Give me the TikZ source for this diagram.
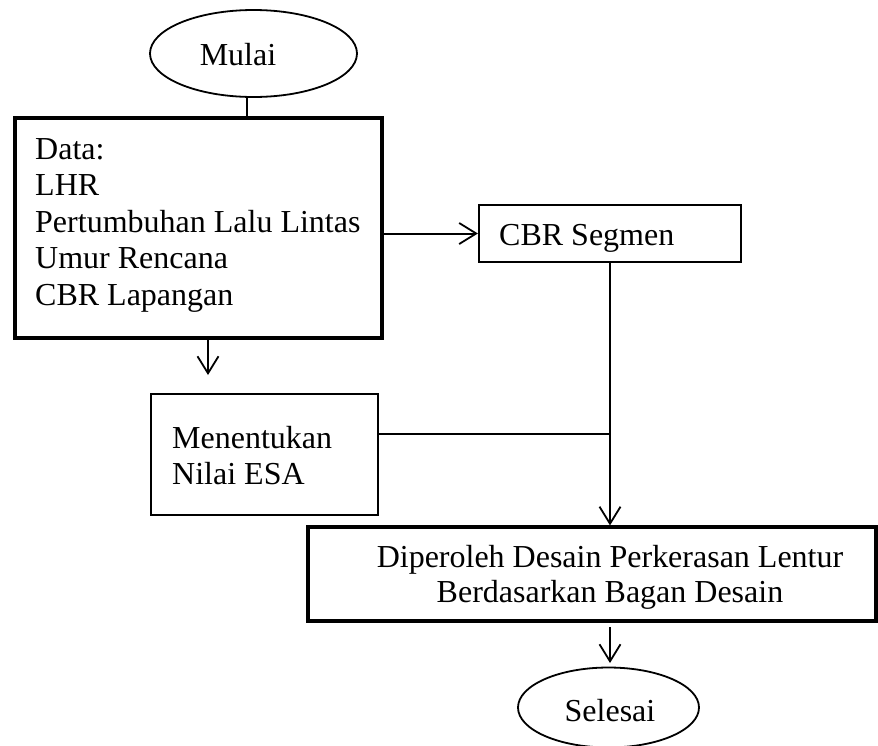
\documentclass[tikz,border=0pt]{standalone}
\usepackage{fontspec}
\setmainfont{Liberation Serif}
\usetikzlibrary{arrows.meta,shapes.geometric}
\begin{document}
\begin{tikzpicture}[x=1pt,y=-1pt,
  boxthick/.style={draw, rectangle, line width=3.2pt, inner sep=0pt},
  boxthin/.style={draw, rectangle, line width=2.2pt, inner sep=0pt},
  term/.style={draw, ellipse, line width=1.8pt, inner sep=0pt},
  txt/.style={inner sep=0pt, font=\fontsize{32pt}{36.5pt}\selectfont},
  line/.style={line width=2pt},
  arr/.style={line width=2pt, -{Straight Barb[length=17pt,width=21pt,line width=1.8pt]}}
]
\useasboundingbox[fill=white] (0,0) rectangle (878,745);

% shapes
\node[term, minimum width=207pt, minimum height=87pt] (mulai) at (253.5,53.5) {};
\node[boxthick, minimum width=367pt, minimum height=220pt] (data) at (198.5,228) {};
\node[boxthin, minimum width=262pt, minimum height=57pt] (cbr) at (610,233.5) {};
\node[boxthin, minimum width=227pt, minimum height=121pt] (esa) at (264.5,454.5) {};
\node[boxthick, minimum width=568pt, minimum height=94pt] (dip) at (592,574) {};
\node[term, minimum width=181pt, minimum height=80pt] (selesai) at (608.5,707.5) {};

% texts (anchor base = baseline of the last line)
\node[txt, anchor=base] (mulaitxt) at (238,65) {Mulai};
\node[txt, anchor=base west, align=left] (datatxt) at (35,305)
  {Data:\\LHR\\Pertumbuhan Lalu Lintas\\Umur Rencana\\CBR Lapangan};
\node[txt, anchor=base west] (cbrtxt) at (499,245) {CBR Segmen};
\node[txt, anchor=base west, align=left, font=\fontsize{32pt}{36pt}\selectfont] (esatxt) at (172,484) {Menentukan\\Nilai ESA};
\node[txt, anchor=base, align=center, font=\fontsize{32pt}{35pt}\selectfont] (diptxt) at (610,602)
  {Diperoleh Desain Perkerasan Lentur\\Berdasarkan Bagan Desain};
\node[txt, anchor=base] (selesaitxt) at (610,721) {Selesai};

% connector points
\coordinate (c1) at (247,118);
\coordinate (d1) at (208,375);
\coordinate (j) at (610,434);
\coordinate (e1) at (610,627);
\coordinate (e2) at (610,663);

% connectors
\draw[line] (c1 |- mulai.south) -- (c1);
\draw[arr] (data.south -| d1) -- (d1);
\draw[arr] (data.east |- cbr.west) -- (cbr.west);
\draw[arr] (cbr.south) -- (dip.north -| cbr.south);
\draw[line] (esa.east |- j) -- (j);
\draw[arr] (e1) -- (e2);
\end{tikzpicture}
\end{document}
